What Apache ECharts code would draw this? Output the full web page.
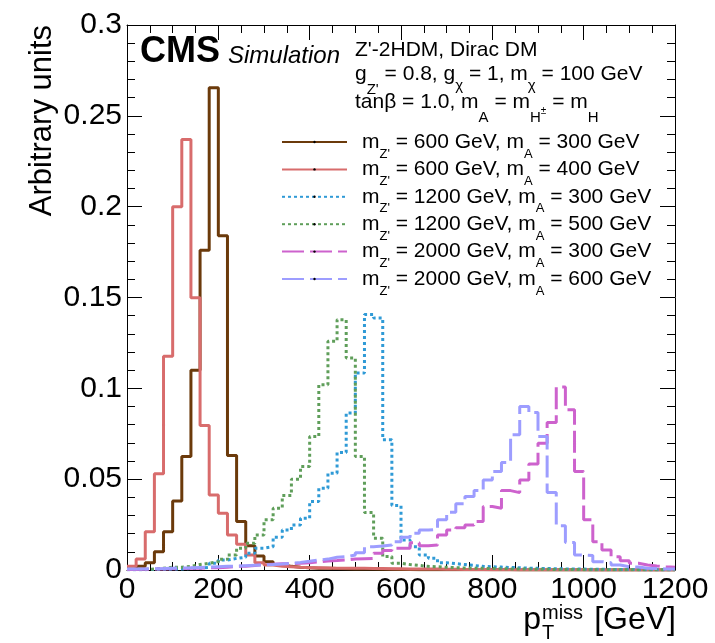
<!DOCTYPE html>
<html>
<head>
<meta charset="utf-8">
<script src="https://cdn.jsdelivr.net/npm/echarts@6/dist/echarts.min.js"></script>
<style>
  html, body { margin: 0; padding: 0; background: #fff; }
  #chart { width: 715px; height: 643px; }
</style>
</head>
<body>
<div id="chart"></div>
<script>
// bin low edges of the p_T^miss histograms (GeV), last entry is the upper edge
const binEdges = [
  0, 20, 40, 60, 80, 100, 120, 140, 160, 180,
  200, 220, 240, 260, 280, 300, 320, 340, 360, 380,
  400, 420, 440, 460, 480, 500, 520, 540, 560, 580,
  600, 620, 640, 660, 680, 700, 720, 740, 760, 780,
  800, 820, 840, 860, 880, 900, 920, 940, 960, 980,
  1000, 1020, 1040, 1060, 1080, 1100, 1120, 1140, 1160, 1180, 1200
]

const mZp = [600, 600, 1200, 1200, 2000, 2000]
const mA = [300, 400, 300, 500, 300, 600]

// normalised bin contents, one list per mass point
const h600_300 = [
  0.0005, 0.002, 0.004, 0.010, 0.021, 0.038, 0.0625, 0.110, 0.176, 0.2655,
  0.184, 0.063, 0.0267, 0.0134, 0.0077, 0.0046, 0.003, 0.002, 0.0015, 0.0012,
  0.001, 0.0009, 0.0008, 0.0007, 0.0006, 0.0005, 0.0005, 0.0004, 0.0004, 0.0003,
  0.0003, 0.0002, 0.0002, 0.0002, 0.0001, 0.0001, 0.0001, 0.0001, 0.0001, 0.0001,
  0.0001, 0.0001, 0, 0, 0, 0, 0, 0, 0, 0,
  0, 0, 0, 0, 0, 0, 0, 0, 0, 0
]
const h600_400 = [
  0.002, 0.006, 0.021, 0.053, 0.1176, 0.200, 0.237, 0.1498, 0.0796, 0.0413,
  0.0312, 0.0193, 0.0142, 0.0083, 0.004, 0.0027, 0.002, 0.0018, 0.0015, 0.0013,
  0.0012, 0.0011, 0.001, 0.001, 0.0009, 0.0009, 0.0008, 0.0008, 0.0007, 0.0007,
  0.0006, 0.0006, 0.0005, 0.0005, 0.0004, 0.0004, 0.0003, 0.0003, 0.0003, 0.0002,
  0.0002, 0.0002, 0.0002, 0.0001, 0.0001, 0.0001, 0.0001, 0.0001, 0.0001, 0.0001,
  0, 0, 0, 0, 0, 0, 0, 0, 0, 0
]
const h1200_300 = [
  0.0001, 0.0002, 0.0003, 0.0004, 0.0005, 0.0006, 0.0008, 0.001, 0.0015, 0.0037,
  0.0055, 0.0064, 0.007, 0.0092, 0.012, 0.0128, 0.018, 0.022, 0.0248, 0.0285,
  0.0377, 0.045, 0.0533, 0.0647, 0.0864, 0.1084, 0.1406, 0.1387, 0.0717, 0.0355,
  0.0165, 0.0128, 0.0083, 0.0064, 0.004, 0.0035, 0.003, 0.0025, 0.002, 0.0018,
  0.0016, 0.0014, 0.0012, 0.001, 0.0009, 0.0008, 0.0007, 0.0006, 0.0005, 0.0005,
  0.0004, 0.0004, 0.0003, 0.0003, 0.0003, 0.0002, 0.0002, 0.0002, 0.0002, 0.0001
]
const h1200_500 = [
  0.0003, 0.0004, 0.0005, 0.001, 0.0015, 0.0015, 0.002, 0.003, 0.0037, 0.0046,
  0.0059, 0.0083, 0.012, 0.0147, 0.0193, 0.0276, 0.034, 0.041, 0.050, 0.057,
  0.0735, 0.102, 0.1259, 0.1378, 0.1167, 0.0625, 0.0316, 0.0175, 0.0074, 0.0037,
  0.003, 0.0025, 0.002, 0.0018, 0.0015, 0.0013, 0.0011, 0.001, 0.0009, 0.0008,
  0.0007, 0.0006, 0.0005, 0.0005, 0.0004, 0.0004, 0.0003, 0.0003, 0.0003, 0.0002,
  0.0002, 0.0002, 0.0002, 0.0001, 0.0001, 0.0001, 0.0001, 0.0001, 0.0001, 0.0001
]
const h2000_300 = [
  0.0003, 0.0004, 0.0005, 0.0006, 0.0007, 0.0008, 0.0009, 0.001, 0.0012, 0.0013,
  0.0015, 0.002, 0.002, 0.0025, 0.003, 0.0032, 0.0034, 0.0035, 0.0037, 0.004,
  0.0045, 0.005, 0.0052, 0.0055, 0.006, 0.0062, 0.0064, 0.0092, 0.0107, 0.012,
  0.012, 0.015, 0.0134, 0.0138, 0.0193, 0.022, 0.0233, 0.0248, 0.0267, 0.0349,
  0.034, 0.0437, 0.0426, 0.0496, 0.0584, 0.0698, 0.0812, 0.1007, 0.0882, 0.0542,
  0.0276, 0.0156, 0.011, 0.0073, 0.0051, 0.0037, 0.0028, 0.0022, 0.0018, 0.0015
]
const h2000_600 = [
  0.0005, 0.0006, 0.0007, 0.0008, 0.001, 0.0011, 0.0012, 0.0014, 0.0016, 0.0018,
  0.002, 0.0022, 0.0024, 0.0026, 0.0028, 0.003, 0.0033, 0.0037, 0.0042, 0.0048,
  0.0055, 0.006, 0.007, 0.0073, 0.0083, 0.0095, 0.0128, 0.0132, 0.0138, 0.0156,
  0.018, 0.0202, 0.022, 0.0224, 0.0276, 0.0318, 0.0364, 0.0404, 0.0437, 0.0496,
  0.0542, 0.0592, 0.0744, 0.090, 0.0867, 0.0735, 0.0426, 0.0243, 0.0151, 0.0083,
  0.008, 0.0046, 0.004, 0.0028, 0.0018, 0.0016, 0.001, 0.0008, 0.0006, 0.0006
]

const histos = [h600_300, h600_400, h1200_300, h1200_500, h2000_300, h2000_600]
const colors = ['#6b3a0b', '#d86c6c', '#2f9ad6', '#5f9e5a', '#cd62cd', '#9d9dff']
const dashes = ['solid', 'solid', [3, 3], [3, 3], [22, 6], [22, 6]]

const font = 'Liberation Sans, Arial, Helvetica, sans-serif'

// histogram -> points for a step line (last bin closed at the upper edge)
function toSteps(vals) {
  const pts = vals.map((v, i) => [binEdges[i], v])
  pts.push([binEdges[vals.length], vals[vals.length - 1]])
  return pts
}

// lays out [text, size, shiftDown] pieces on one baseline (latex-ish sub/superscripts)
const meas = document.createElement('canvas').getContext('2d')
function latexLine(x0, base, parts) {
  let x = x0
  return parts.map(([text, size, dy]) => {
    const f = `${size}px ${font}`
    meas.font = f
    const el = {
      type: 'text', x, y: base + dy - 0.35 * size,
      style: { text, font: f, fill: '#000', verticalAlign: 'middle' },
    }
    x += meas.measureText(text).width
    return el
  })
}

const names = mZp.map((m, i) => `${m}_${mA[i]}`)

const series = histos.map((h, i) => ({
  name: names[i],
  type: 'line',
  step: 'end',
  symbol: 'none',
  data: toSteps(h),
  lineStyle: { color: colors[i], width: 3, type: dashes[i] },
  itemStyle: { color: '#000' },
  z: 3 + i,
}))

const frameAxis = {
  axisLine: { show: true, onZero: false, lineStyle: { color: '#000', width: 1 } },
  axisTick: { inside: true, length: 15, lineStyle: { color: '#000' } },
  splitLine: { show: false },
}

const txt = (size, extra) => Object.assign({ fontSize: size, fontFamily: font, color: '#000' }, extra)

const chart = echarts.init(document.getElementById('chart'), null, { renderer: 'canvas' })

chart.setOption({
  animation: false,
  backgroundColor: '#fff',
  grid: { left: 127, right: 40, top: 25, bottom: 73 },
  xAxis: [
    {
      type: 'value', min: 0, max: 1200, interval: 200, ...frameAxis,
      minorTick: { show: true, splitNumber: 4, length: 8, lineStyle: { color: '#000' } },
      axisLabel: { fontSize: 30, color: '#000', fontFamily: font, margin: 5, formatter: v => String(v) },
    },
    {
      type: 'value', position: 'top', min: 0, max: 1200, interval: 200, ...frameAxis,
      minorTick: { show: true, splitNumber: 4, length: 8, lineStyle: { color: '#000' } },
      axisLabel: { show: false },
    },
  ],
  yAxis: [
    {
      type: 'value', min: 0, max: 0.3, interval: 0.05, ...frameAxis,
      minorTick: { show: true, splitNumber: 5, length: 8, lineStyle: { color: '#000' } },
      axisLabel: { fontSize: 30, color: '#000', fontFamily: font, margin: 5 },
    },
    {
      type: 'value', position: 'right', min: 0, max: 0.3, interval: 0.05, ...frameAxis,
      minorTick: { show: true, splitNumber: 5, length: 8, lineStyle: { color: '#000' } },
      axisLabel: { show: false },
    },
  ],
  legend: {
    orient: 'vertical',
    left: 281,
    top: 123.5,
    padding: 0,
    itemWidth: 65,
    itemHeight: 3,
    itemGap: -9.6,
    data: names,
    textStyle: {
      color: '#000',
      fontFamily: font,
      fontSize: 21,
      rich: {
        m0: txt(21, { lineHeight: 21, padding: [0, 0, 0, 10] }),
        t: txt(21, { lineHeight: 21 }),
        sub: txt(13, { lineHeight: 13, padding: [24, 0, 0, 0] }),
      },
    },
    formatter: name => {
      const i = names.indexOf(name)
      return `{m0|m}{sub|Z'}{t| = ${mZp[i]} GeV, m}{sub|A}{t| = ${mA[i]} GeV}`
    },
  },
  graphic: [
    {
      type: 'text', x: 140, y: 52.5,
      style: { text: 'CMS', font: `bold 36px ${font}`, fill: '#000', verticalAlign: 'middle' },
    },
    {
      type: 'text', x: 228, y: 56.6,
      style: { text: 'Simulation', font: `italic 24px ${font}`, fill: '#000', verticalAlign: 'middle' },
    },
    ...latexLine(355, 58, [["Z'-2HDM, Dirac DM", 21, 0]]),
    ...latexLine(355, 82, [
      ['g', 21, 0], ["Z'", 15, 13], [' = 0.8, g', 21, 0], ['χ', 15, 9],
      [' = 1, m', 21, 0], ['χ', 15, 9], [' = 100 GeV', 21, 0],
    ]),
    ...latexLine(355, 110, [
      ['tanβ = 1.0, m', 21, 0], ['A', 15, 13], [' = m', 21, 0], ['H', 15, 13],
      ['±', 10, 5], [' = m', 21, 0], ['H', 15, 13],
    ]),
    {
      type: 'text', x: 42, y: 25, rotation: Math.PI / 2,
      style: { text: 'Arbitrary units', font: `31px ${font}`, fill: '#000', align: 'right', verticalAlign: 'middle' },
    },
    {
      type: 'text', x: 541, y: 620,
      style: { text: 'p', font: `32px ${font}`, fill: '#000', align: 'right', verticalAlign: 'middle' },
    },
    {
      type: 'text', x: 542, y: 613,
      style: { text: 'miss', font: `20px ${font}`, fill: '#000', align: 'left', verticalAlign: 'middle' },
    },
    {
      type: 'text', x: 542, y: 633,
      style: { text: 'T', font: `20px ${font}`, fill: '#000', align: 'left', verticalAlign: 'middle' },
    },
    {
      type: 'text', x: 676, y: 620,
      style: { text: '[GeV]', font: `32px ${font}`, fill: '#000', align: 'right', verticalAlign: 'middle' },
    },
  ],
  series,
})
</script>
</body>
</html>
